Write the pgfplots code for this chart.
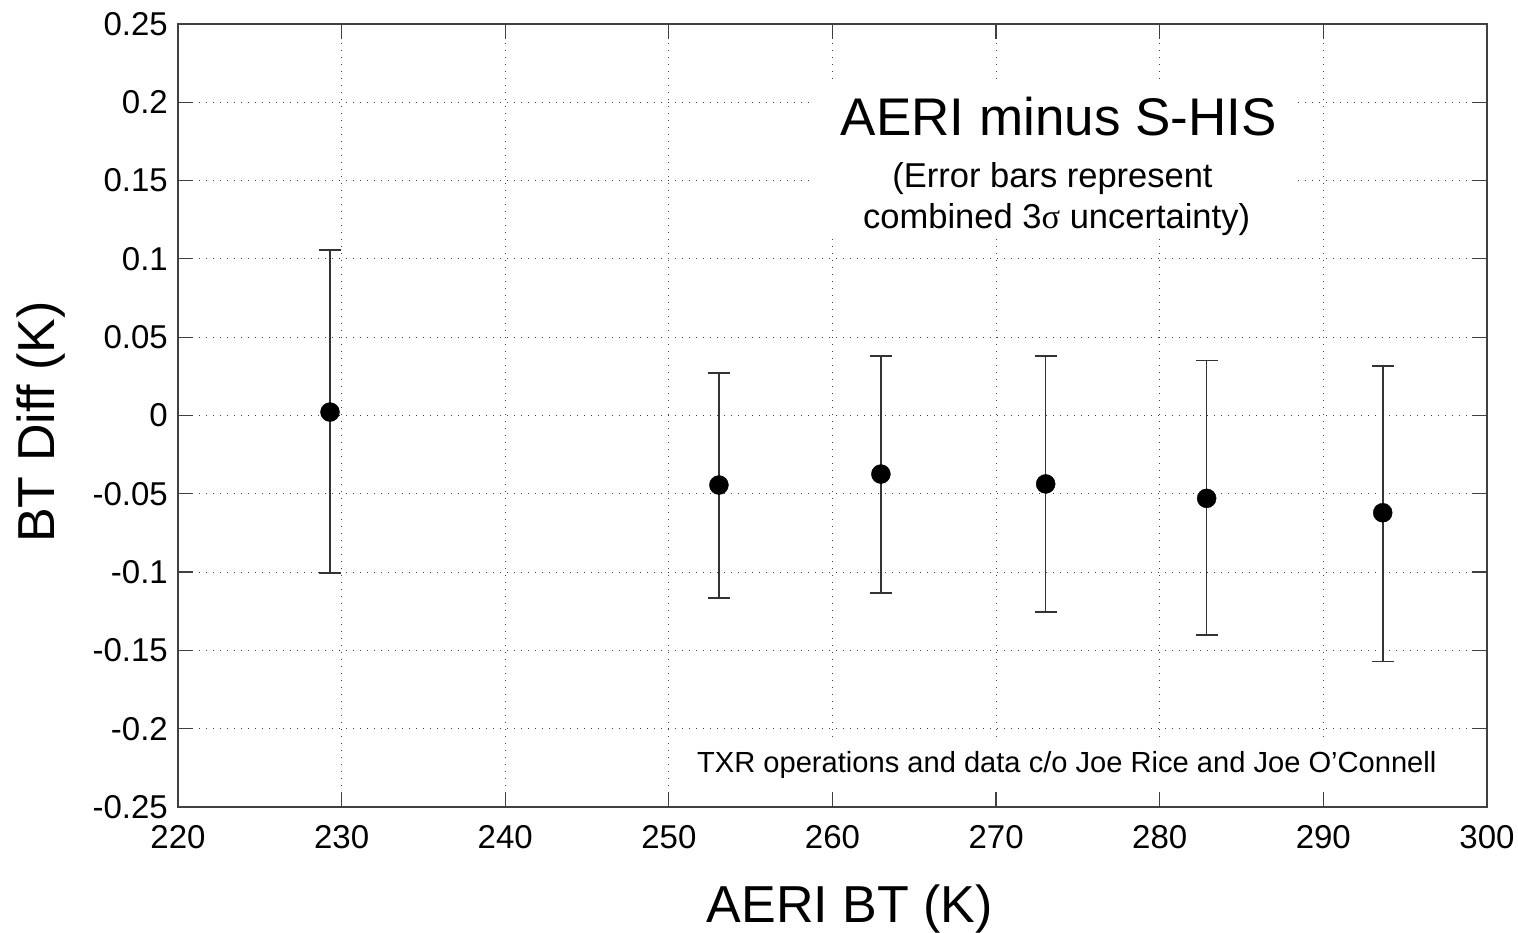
\documentclass[border=0pt]{standalone}
\usepackage{fontspec}
\setmainfont{Liberation Sans}
\newfontfamily\serifgreek{Liberation Serif}
\usepackage{pgfplots}
\pgfplotsset{compat=1.18}
\definecolor{axgray}{HTML}{404040}
\definecolor{bargray}{HTML}{333333}
\begin{document}
\begin{tikzpicture}
\path[use as bounding box] (-178bp,-126bp) rectangle (1340bp,807bp);
\begin{axis}[
  at={(0,0)}, anchor=south west,
  scale only axis, width=1309bp, height=783bp,
  xmin=220, xmax=300, ymin=-0.25, ymax=0.25,
  xtick={220,230,...,300},
  ytick={-0.25,-0.2,-0.15,-0.1,-0.05,0,0.05,0.1,0.15,0.2,0.25},
  yticklabels={-0.25,-0.2,-0.15,-0.1,-0.05,0,0.05,0.1,0.15,0.2,0.25},
  scaled y ticks=false,
  /pgf/number format/assume math mode=true,
  tick align=inside, major tick length=15bp,
  xtick pos=both, ytick pos=both,
  tick style={axgray, line width=1.2bp},
  axis line style={axgray, line width=1.6bp},
  grid=major,
  major grid style={black!75, line width=1.1bp, dash pattern=on 1.1bp off 5.9bp},
  ticklabel style={font=\fontsize{33bp}{38bp}\selectfont},
  xticklabel style={inner sep=0pt, anchor=north, yshift=-18bp},
  yticklabel style={inner sep=0pt, anchor=east, xshift=-10bp},
  xlabel={AERI BT (K)},
  xlabel style={at={(rel axis cs:0.5134,-0.1469)}, anchor=base, font=\fontsize{52bp}{60bp}\selectfont},
  ylabel={BT Diff (K)},
  ylabel style={at={(rel axis cs:-0.094,0.4917)}, anchor=base, rotate=0, font=\fontsize{52bp}{60bp}\selectfont},
  clip=false,
]
% white boxes behind the annotations
\fill[white] (axis cs:258.75,0.1133) rectangle (axis cs:288.4,0.211);
\fill[white] (axis cs:251.3,-0.2405) rectangle (axis cs:299.9,-0.207);

\addplot[only marks, mark=*, mark size=9.5bp, black,
  error bars/.cd, y dir=both, y explicit,
  error bar style={bargray, line width=1.6bp},
  error mark options={rotate=90, mark size=11bp, bargray, line width=1.6bp}]
  table[x=x, y=y, y error plus=ep, y error minus=em] {
x       y        ep      em
229.29  0.0022   0.1035  0.1028
253.06  -0.0444  0.0714  0.0723
262.96  -0.0374  0.0754  0.0758
273.03  -0.0437  0.0817  0.0816
282.87  -0.0529  0.0879  0.0873
293.63  -0.0621  0.0937  0.0951
};

\node[anchor=base, font=\fontsize{53bp}{60bp}\selectfont] at (axis cs:273.84,0.1791) {AERI minus S-HIS};
\node[anchor=base, font=\fontsize{34.5bp}{40bp}\selectfont] at (axis cs:273.45,0.1459) {(Error bars represent};
\node[anchor=base, font=\fontsize{34.5bp}{40bp}\selectfont] at (axis cs:273.7,0.1197) {combined 3{\serifgreek σ} uncertainty)};
\node[anchor=base west, inner sep=0pt, font=\fontsize{29.1bp}{34bp}\selectfont] at (axis cs:251.72,-0.2277) {TXR operations and data c/o Joe Rice and Joe O’Connell};
\end{axis}
\end{tikzpicture}
\end{document}
